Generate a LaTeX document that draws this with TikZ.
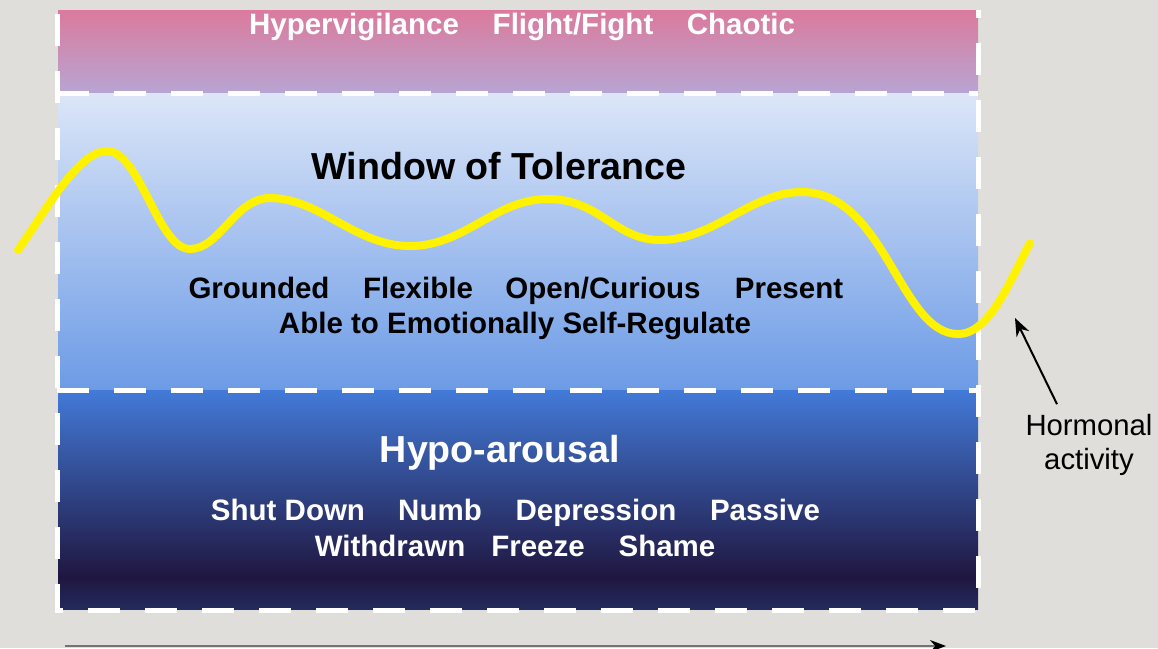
\documentclass[tikz,border=0pt]{standalone}
\usepackage{fontspec}
\setmainfont{Liberation Sans}
\usetikzlibrary{arrows.meta, positioning}
\definecolor{canvas}{HTML}{E0DEDA}
\definecolor{hyperTop}{HTML}{DB7A9C}
\definecolor{hyperBot}{HTML}{B7A5D3}
\definecolor{tolTop}{HTML}{DCE6F8}
\definecolor{tolBot}{HTML}{6C9BE6}
\definecolor{hypoTop}{HTML}{437AD8}
\definecolor{hypoMid}{HTML}{2C4690}
\definecolor{hypoDark}{HTML}{1F1640}
\definecolor{hypoBot}{HTML}{232B5E}
\definecolor{waveYellow}{HTML}{FFF200}
\tikzset{
	x=1pt, y=-1pt,
	edgeline/.style={white, line width=5pt, dash pattern=on 32pt off 25pt},
	word/.style={inner sep=0pt, anchor=base, font=\fontsize{29.5}{34}\selectfont\bfseries},
	heading/.style={inner sep=0pt, anchor=base, font=\fontsize{37.6}{44}\selectfont\bfseries},
	note/.style={inner sep=0pt, align=center, font=\fontsize{29.3}{34}\selectfont},
	wave/.style={waveYellow, line width=8pt, line cap=round},
	pointer/.style={line width=2pt, -{Stealth[length=18pt, width=14pt]}},
	timeline/.style={line width=1.4pt, black!55, -{Stealth[length=16pt, width=12pt, black]}}
}

\begin{document}
\begin{tikzpicture}
	\fill[canvas] (0,0) rectangle (1158,648);
	\useasboundingbox (0,0) rectangle (1158,648);

	% bands
	\fill[top color=hyperTop, bottom color=hyperBot] (58,10) rectangle (978,93);
	\fill[top color=tolTop, bottom color=tolBot] (58,93) rectangle (978,390);
	\fill[top color=hypoTop, middle color=hypoMid, bottom color=hypoDark] (58,390) rectangle (978,578);
	\fill[top color=hypoDark, bottom color=hypoBot] (58,577) rectangle (978,609);

	\draw[edgeline] (57,14) -- (57,610) -- (978,610) -- (978,10);
	\draw[edgeline] (57,93) -- (978,93);
	\draw[edgeline] (57,390) -- (978,390);

	% hyper-arousal
	\node[word, white] (hyper) at (354,34) {Hypervigilance};
	\node[word, white] (flight) at (573,34) {Flight/Fight};
	\node[word, white] (chaos) at (741,34) {Chaotic};

	% window
	\node[heading] (window) at (499,179) {Window of Tolerance};
	\node[word] (ground) at (259,298) {Grounded};
	\node[word] (flex) at (418,298) {Flexible};
	\node[word] (open) at (603,298) {Open/Curious};
	\node[word] (present) at (789,298) {Present};
	\node[word] (able) at (515,333) {Able to Emotionally Self-Regulate};

	% hypo-arousal
	\node[heading, white] (hypo) at (500,462) {Hypo-arousal};
	\node[word, white] (shut) at (288,520) {Shut Down};
	\node[word, white] (numb) at (440,520) {Numb};
	\node[word, white] (depress) at (596,520) {Depression};
	\node[word, white] (passive) at (765,520) {Passive};
	\node[word, white] (withdraw) at (390,556) {Withdrawn};
	\node[word, white] (freeze) at (538,556) {Freeze};
	\node[word, white] (shame) at (667,556) {Shame};

	\draw[wave] (18,250) .. controls (45,212) and (78,151) .. (107,151)
		.. controls (140,151) and (158,249) .. (190,249)
		.. controls (220,249) and (235,198) .. (270,198)
		.. controls (320,198) and (355,246) .. (410,246)
		.. controls (465,246) and (495,199) .. (548,199)
		.. controls (600,199) and (615,240) .. (660,240)
		.. controls (715,240) and (750,192) .. (802,192)
		.. controls (885,192) and (900,334) .. (958,334)
		.. controls (990,334) and (1010,280) .. (1030,243);

	\node[note] (hormone) at (1089,445) {Hormonal\\activity};
	\coordinate (waveTip) at (1015,318);
	\draw[pointer] ([xshift=-32pt, yshift=10pt]hormone.north) -- (waveTip);

	\coordinate (timeStart) at (65,646);
	\coordinate (timeEnd) at (946,646);
	\draw[timeline] (timeStart) -- (timeEnd);
\end{tikzpicture}
\end{document}
